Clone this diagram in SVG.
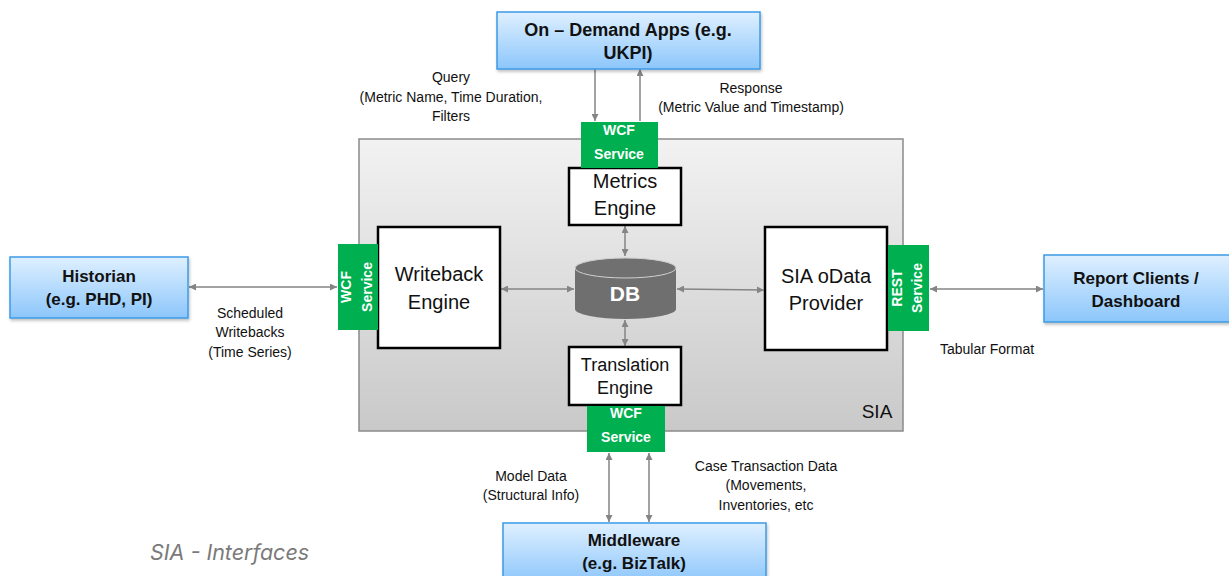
<svg xmlns="http://www.w3.org/2000/svg" width="1229" height="576" viewBox="0 0 1229 576">
<style>
.lbl{font-family:"Liberation Sans",Arial,sans-serif;font-size:14px;fill:#111;text-anchor:middle}
.bt{font-family:"Liberation Sans",Arial,sans-serif;font-size:18px;font-weight:bold;fill:#111;text-anchor:middle}
.eng{font-family:"Liberation Sans",Arial,sans-serif;font-size:20px;fill:#111;text-anchor:middle}
.svc{font-family:"Liberation Sans",Arial,sans-serif;font-size:14px;font-weight:bold;fill:#fff;text-anchor:middle}
.blue{fill:url(#bg);stroke:#3d9be6;stroke-width:1.5;filter:url(#sh)}
.engbox{fill:#fff;stroke:#000;stroke-width:2.5}
.green{fill:#00b050}
.conn{stroke:#858585;stroke-width:1.5;fill:none;marker-end:url(#ah)}
.conn2{stroke:#858585;stroke-width:1.5;fill:none;marker-end:url(#ah);marker-start:url(#ahs)}
</style>
<defs>
<linearGradient id="bg" x1="0" y1="0" x2="0" y2="1"><stop offset="0" stop-color="#dff0ff"/><stop offset="1" stop-color="#8cc6fb"/></linearGradient>
<linearGradient id="sg" x1="0" y1="0" x2="0" y2="1"><stop offset="0" stop-color="#f2f2f2"/><stop offset="1" stop-color="#c9c9c9"/></linearGradient>
<filter id="sh" x="-10%" y="-10%" width="120%" height="130%"><feDropShadow dx="1" dy="2" stdDeviation="1.5" flood-color="#000" flood-opacity="0.25"/></filter>
<marker id="ah" viewBox="0 0 10 10" refX="10" refY="5" markerWidth="7" markerHeight="7" markerUnits="userSpaceOnUse" orient="auto"><path d="M0,0 L10,5 L0,10 z" fill="#858585"/></marker>
<marker id="ahs" viewBox="0 0 10 10" refX="0" refY="5" markerWidth="7" markerHeight="7" markerUnits="userSpaceOnUse" orient="auto"><path d="M10,0 L0,5 L10,10 z" fill="#858585"/></marker>
</defs>
<rect width="1229" height="576" fill="#fff"/>

<g id="sia">
<rect x="359" y="139" width="544" height="292" fill="url(#sg)" stroke="#8a8a8a" stroke-width="1.5"/>
<text x="877" y="418" class="eng" style="font-size:19px">SIA</text>
</g>

<g id="connectors">
<line x1="595" y1="69" x2="595" y2="121" class="conn"/>
<line x1="640" y1="121" x2="640" y2="69" class="conn"/>
<line x1="189" y1="287" x2="337" y2="287" class="conn2"/>
<line x1="501" y1="289" x2="574" y2="289" class="conn2"/>
<line x1="677" y1="289" x2="764" y2="290" class="conn2"/>
<line x1="930" y1="289" x2="1043" y2="289" class="conn2"/>
<line x1="625" y1="226" x2="625" y2="256" class="conn2"/>
<line x1="625" y1="320" x2="625" y2="346" class="conn2"/>
<line x1="609" y1="453" x2="609" y2="522" class="conn2"/>
<line x1="649" y1="453" x2="649" y2="522" class="conn2"/>
</g>

<g id="ondemand">
<rect x="497" y="12" width="263" height="57" class="blue"/>
<text x="628" y="36" class="bt">On – Demand Apps (e.g.</text>
<text x="628" y="59" class="bt">UKPI)</text>
</g>

<g id="historian">
<rect x="10" y="257" width="178" height="61" class="blue"/>
<text x="99" y="282" class="bt" style="font-size:17px">Historian</text>
<text x="99" y="305" class="bt" style="font-size:17px">(e.g. PHD, PI)</text>
</g>

<g id="report">
<rect x="1044" y="255" width="190" height="67" class="blue"/>
<text x="1136" y="284" class="bt" style="font-size:17px">Report Clients /</text>
<text x="1136" y="307" class="bt" style="font-size:17px">Dashboard</text>
</g>

<g id="middleware">
<rect x="503" y="523" width="263" height="60" class="blue"/>
<text x="634" y="546" class="bt" style="font-size:17px">Middleware</text>
<text x="634" y="569" class="bt" style="font-size:17px">(e.g. BizTalk)</text>
</g>

<g id="metrics">
<rect x="569" y="168" width="112" height="57" class="engbox"/>
<text x="625" y="188" class="eng">Metrics</text>
<text x="625" y="215" class="eng">Engine</text>
</g>

<g id="wcf-top">
<rect x="581" y="122" width="77" height="46" class="green"/>
<text x="619" y="135" class="svc">WCF</text>
<text x="619" y="159" class="svc">Service</text>
</g>

<g id="writeback">
<rect x="378" y="227" width="122" height="121" class="engbox"/>
<text x="439" y="281" class="eng">Writeback</text>
<text x="439" y="309" class="eng">Engine</text>
</g>

<g id="wcf-left">
<rect x="338" y="244" width="40" height="86" class="green"/>
<text transform="translate(351,287) rotate(-90)" class="svc">WCF</text>
<text transform="translate(372,287) rotate(-90)" class="svc">Service</text>
</g>

<g id="db">
<path d="M575,268 L575,309 A50.5,10 0 0 0 676,309 L676,268 Z" fill="#6f6f6f"/>
<ellipse cx="625.5" cy="268" rx="50.5" ry="10" fill="#707070" stroke="#d0d0d0" stroke-width="1"/>
<text x="625" y="301" class="eng" style="font-weight:bold;fill:#fff;font-size:21px">DB</text>
</g>

<g id="odata">
<rect x="765" y="227" width="122" height="123" class="engbox"/>
<text x="826" y="283" class="eng">SIA oData</text>
<text x="826" y="310" class="eng">Provider</text>
</g>

<g id="rest">
<rect x="888" y="245" width="41" height="86" class="green"/>
<text transform="translate(902,288) rotate(-90)" class="svc">REST</text>
<text transform="translate(922,288) rotate(-90)" class="svc">Service</text>
</g>

<g id="translation">
<rect x="569" y="347" width="112" height="58" class="engbox"/>
<text x="625" y="371" class="eng" style="font-size:18px">Translation</text>
<text x="625" y="394" class="eng" style="font-size:18px">Engine</text>
</g>

<g id="wcf-bottom">
<rect x="587" y="406" width="78" height="46" class="green"/>
<text x="626" y="418" class="svc">WCF</text>
<text x="626" y="442" class="svc">Service</text>
</g>

<g id="labels">
<text x="451" y="82" class="lbl">Query</text>
<text x="451" y="102" class="lbl">(Metric Name, Time Duration,</text>
<text x="451" y="121" class="lbl">Filters</text>
<text x="751" y="93" class="lbl">Response</text>
<text x="751" y="112" class="lbl">(Metric Value and Timestamp)</text>
<text x="250" y="318" class="lbl">Scheduled</text>
<text x="250" y="337" class="lbl">Writebacks</text>
<text x="250" y="357" class="lbl">(Time Series)</text>
<text x="987" y="354" class="lbl">Tabular Format</text>
<text x="531" y="481" class="lbl">Model Data</text>
<text x="531" y="500" class="lbl">(Structural Info)</text>
<text x="766" y="471" class="lbl">Case Transaction Data</text>
<text x="766" y="490" class="lbl">(Movements,</text>
<text x="766" y="510" class="lbl">Inventories, etc</text>
<text x="150" y="560" style="font-family:Inter,Roboto,sans-serif;font-style:italic;font-size:21.5px;fill:#7a7a7a">SIA - Interfaces</text>
</g>
</svg>
